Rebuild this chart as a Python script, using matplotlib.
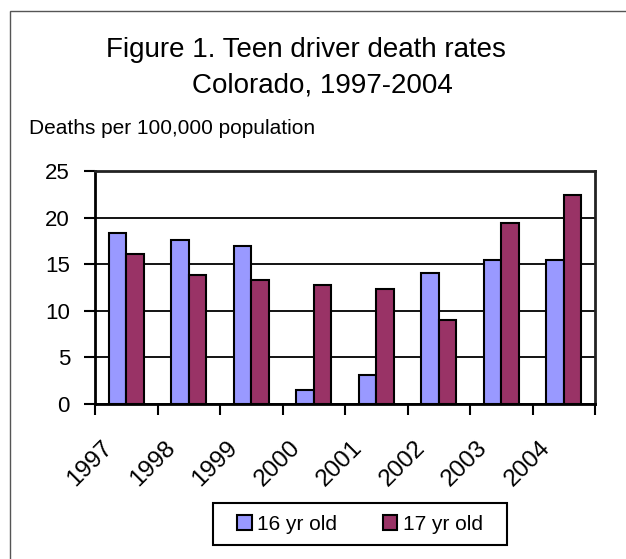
import numpy as np
import matplotlib.pyplot as plt
from matplotlib.patches import Rectangle
from matplotlib.transforms import ScaledTranslation

plt.rcParams['font.family'] = ['Liberation Sans', 'DejaVu Sans']

years = ['1997', '1998', '1999', '2000', '2001', '2002', '2003', '2004']
age16 = [18.4, 17.6, 17.0, 1.5, 3.1, 14.1, 15.4, 15.4]
age17 = [16.1, 13.8, 13.3, 12.8, 12.3, 9.0, 19.4, 22.4]

W, H = 626, 559
fig = plt.figure(figsize=(W / 100, H / 100), dpi=100)

# outer chart frame (right/bottom edges fall outside the picture)
fig.patches.append(Rectangle((10 / W, -0.05), 1.1, 1 - 11 / H + 0.05,
                             transform=fig.transFigure, fill=False,
                             edgecolor='#555555', linewidth=1))

ax = fig.add_axes([95 / W, (H - 404) / H, 500 / W, (404 - 171) / H])

x = np.arange(len(years))
width = 0.28
ax.bar(x - width / 2, age16, width, color='#9999FF', edgecolor='black',
       linewidth=1.5, label='16 yr old', zorder=3)
ax.bar(x + width / 2, age17, width, color='#993366', edgecolor='black',
       linewidth=1.5, label='17 yr old', zorder=3)

ax.set_xlim(-0.5, len(years) - 0.5)
ax.set_ylim(0, 25)
ax.set_yticks(range(0, 26, 5))
ax.yaxis.grid(True, color='black', linewidth=1.3, zorder=1)
ax.set_axisbelow(True)

# category boundaries get the tick marks, centres get the labels
ax.set_xticks(np.arange(len(years) + 1) - 0.5, minor=False)
ax.set_xticklabels([])
ax.set_xticks(x, minor=True)
ax.set_xticklabels(years, minor=True, rotation=45, ha='right', va='center',
                   rotation_mode='anchor', fontsize=17.5)
ax.tick_params(axis='x', which='minor', length=0, pad=29)
ax.tick_params(axis='x', which='major', length=8, width=1.5, direction='out')
ax.tick_params(axis='y', length=8, width=1.5, direction='out', labelsize=16, pad=10)
shift = ScaledTranslation(-17 / 100, 0, fig.dpi_scale_trans)
for lab in ax.get_xticklabels(minor=True):
    lab.set_transform(lab.get_transform() + shift)

for side in ['left', 'bottom']:
    ax.spines[side].set_linewidth(2)
for side in ['top', 'right']:
    ax.spines[side].set_linewidth(2)
    ax.spines[side].set_color('#222222')

fig.text(306 / W, 1 - 57 / H, 'Figure 1. Teen driver death rates',
         ha='center', va='baseline', fontsize=20)
fig.text(322 / W, 1 - 93 / H, 'Colorado, 1997-2004',
         ha='center', va='baseline', fontsize=20)
fig.text(29 / W, 1 - 134 / H, 'Deaths per 100,000 population',
         ha='left', va='baseline', fontsize=15)

# legend box drawn separately so its padding can be wider than tall
fig.patches.append(Rectangle((213 / W, 1 - 545 / H), 294 / W, 42 / H,
                             transform=fig.transFigure, fill=False,
                             edgecolor='black', linewidth=1.5))
leg = fig.legend(loc='center', bbox_to_anchor=(360 / W, 1 - 524 / H), ncol=2,
                 fontsize=15, frameon=False,
                 handlelength=0.7, handleheight=0.7, handletextpad=0.25,
                 columnspacing=2.2, borderpad=0.2)
for h in leg.legend_handles:
    h.set_linewidth(1.5)

fig.savefig('out.png', dpi=100)
